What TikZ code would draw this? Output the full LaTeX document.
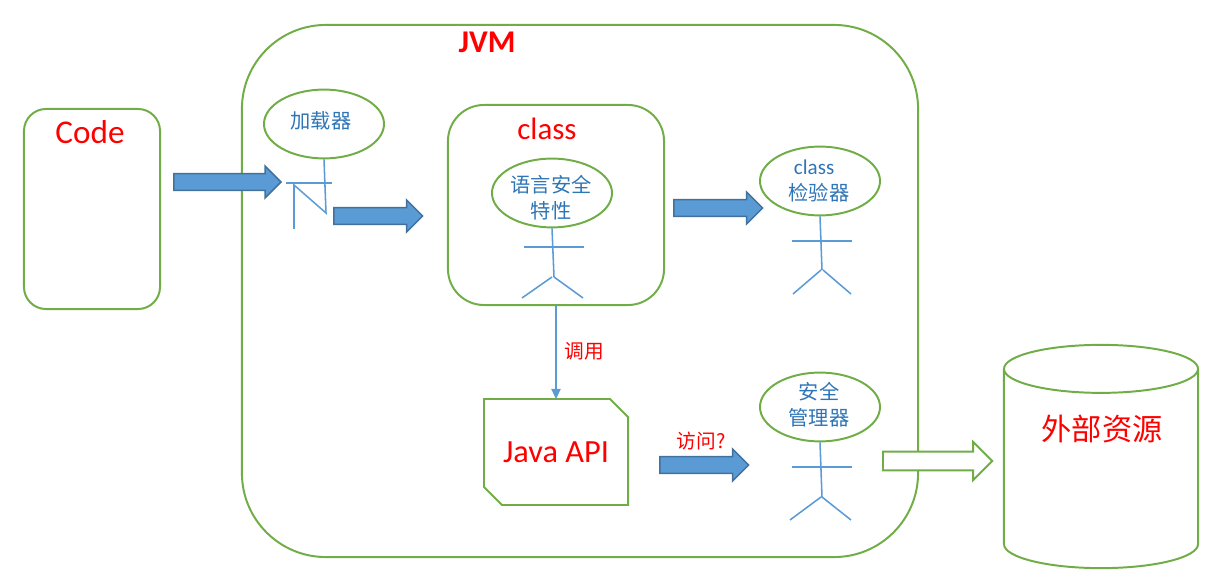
\documentclass[tikz,border=0pt]{standalone}
\usepackage{xcolor}
\usepackage{fontspec}
\setmainfont{Carlito}
\newfontfamily\cjk{Noto Sans CJK SC}
\newfontfamily\latinfont{Carlito}
\usetikzlibrary{arrows.meta,shapes.geometric,shapes.arrows,calc}
\definecolor{boxgreen}{RGB}{112,173,71}
\definecolor{lineblue}{RGB}{91,155,213}
\definecolor{edgeblue}{RGB}{65,113,156}
\definecolor{textblue}{RGB}{46,117,182}

\begin{document}
\begin{tikzpicture}[
  x=0.025cm, y=-0.025cm,
  box/.style={draw=boxgreen, line width=1.4pt, inner sep=0pt},
  outline/.style={draw=boxgreen, line width=1.4pt, line join=miter},
  head/.style={ellipse, draw=boxgreen, line width=1.4pt, inner sep=0pt, minimum width=3cm, minimum height=1.72cm},
  headtext/.style={inner sep=0pt, align=center, text=textblue, font=\cjk\fontsize{14.4}{18.5}\selectfont},
  stick/.style={draw=lineblue, line width=1.1pt},
  bluearrow/.style={single arrow, anchor=tail, draw=edgeblue, fill=lineblue, line width=1.1pt, inner xsep=0pt, inner ysep=0.19cm, minimum width=0.76cm, single arrow head extend=0.19cm, single arrow tip angle=90},
  redlabel/.style={text=red, inner sep=0pt, font=\cjk\fontsize{14}{16}\selectfont},
]
  \useasboundingbox (0,0) rectangle (1226,584);

  \node[box, rounded corners=0.55cm, minimum width=3.4cm, minimum height=5cm] (code) at (92,209) {};
  \node[box, rounded corners=2.1cm, minimum width=16.9cm, minimum height=13.3cm] (jvm) at (580,291) {};
  \node[box, rounded corners=0.9cm, minimum width=5.4cm, minimum height=5cm] (classbox) at (556,205) {};

  % snipped box
  \node[inner sep=0pt, outer sep=0pt, minimum width=3.6cm, minimum height=2.65cm] (api) at (556,452) {};
  \draw[outline] (api.north west) -- ($(api.north east)+(-18,0)$) -- ($(api.north east)+(0,18)$) -- (api.south east) -- ($(api.south west)+(18,0)$) -- ($(api.south west)+(0,-18)$) -- cycle;

  % drum
  \node[inner sep=0pt, outer sep=0pt, minimum width=4.85cm, minimum height=5.58cm] (res) at (1101,456.5) {};
  \draw[outline] ($(res.north)+(0,24)$) ellipse [x radius=2.425cm, y radius=0.6cm];
  \draw[outline] ($(res.north west)+(0,24)$) -- ($(res.south west)+(0,-24)$) arc [start angle=180, end angle=360, x radius=2.425cm, y radius=0.6cm] -- ($(res.north east)+(0,24)$);

  \node[text=red, inner sep=0pt, font=\fontsize{23.6}{26}\selectfont] (codetext) at (90,132) {Code};
  \node[text=red, inner sep=0pt, font=\bfseries\fontsize{22.5}{26}\selectfont] (jvmtext) at (487,42) {JVM};
  \node[text=red, inner sep=0pt, font=\fontsize{22}{26}\selectfont] (classtext) at (547,129) {class};
  \node[text=red, inner sep=0pt, font=\fontsize{23}{26}\selectfont] (apitext) at (556,452) {Java API};
  \node[text=red, inner sep=0pt, font=\cjk\fontsize{21.5}{26}\selectfont] (restext) at (1102,429) {外部资源};

  % heads
  \node[head] (loader) at (324,124) {};
  \node[headtext] (loadertext) at (321,121) {加载器};
  \node[head] (lang) at (552,193) {};
  \node[headtext] (langtext) at (551,198) {语言安全\\特性};
  \node[head] (checker) at (820,181) {};
  \node[headtext] (checkertext) at (819,181) {{\latinfont\fontsize{15}{18.5}\selectfont class\hspace*{7pt}}\\检验器};
  \node[head] (manager) at (820,407) {};
  \node[headtext] (managertext) at (819,404.5) {安全\\管理器};

  % loader figure
  \coordinate (loaderhip) at (326,213);
  \coordinate (loaderneck) at (294,185);
  \draw[stick] (loader.south) -- (loaderhip) -- (loaderneck) -- (294,229);
  \draw[stick] (286,183) -- (332,183);

  % class figure
  \coordinate (langhip) at (554,277);
  \draw[stick] (lang.south) -- (langhip);
  \draw[stick] (524,247) -- (584,247);
  \draw[stick] (522,298) -- (552,277) (554,277) -- (583,298);

  % checker figure
  \coordinate (checkerhip) at (822,270);
  \draw[stick] (checker.south) -- (checkerhip);
  \draw[stick] (792,241) -- (852,241);
  \draw[stick] (793,294) -- (821,270) (823,270) -- (851,294);

  % manager figure
  \coordinate (managerhip) at (822,497);
  \draw[stick] (manager.south) -- (managerhip);
  \draw[stick] (792,467) -- (852,467);
  \draw[stick] (790,520) -- (821,497) (822,497) -- (851,520);

  % arrows
  \node[bluearrow, minimum height=2.68cm] (toloader) at (173,182) {};
  \node[bluearrow, minimum height=2.22cm] (toclass) at (333,216) {};
  \node[bluearrow, minimum height=2.22cm] (tochecker) at (673,208) {};
  \node[bluearrow, minimum height=2.22cm] (tomanager) at (659,465) {};
  \node[single arrow, anchor=tail, draw=boxgreen, fill=white, line width=1.4pt, inner xsep=0pt, inner ysep=0.21cm, minimum width=0.9cm, single arrow head extend=0.24cm, single arrow tip angle=90, minimum height=2.73cm] (tores) at (882,461) {};

  \draw[draw=lineblue, line width=1.1pt, -{Triangle[length=2.5mm, width=2.3mm]}] (classbox.south) -- (api.north);
  \node[redlabel] (calltext) at (584,351) {调用};
  \node[redlabel] (accesstext) at (701,441) {访问?};
\end{tikzpicture}
\end{document}
